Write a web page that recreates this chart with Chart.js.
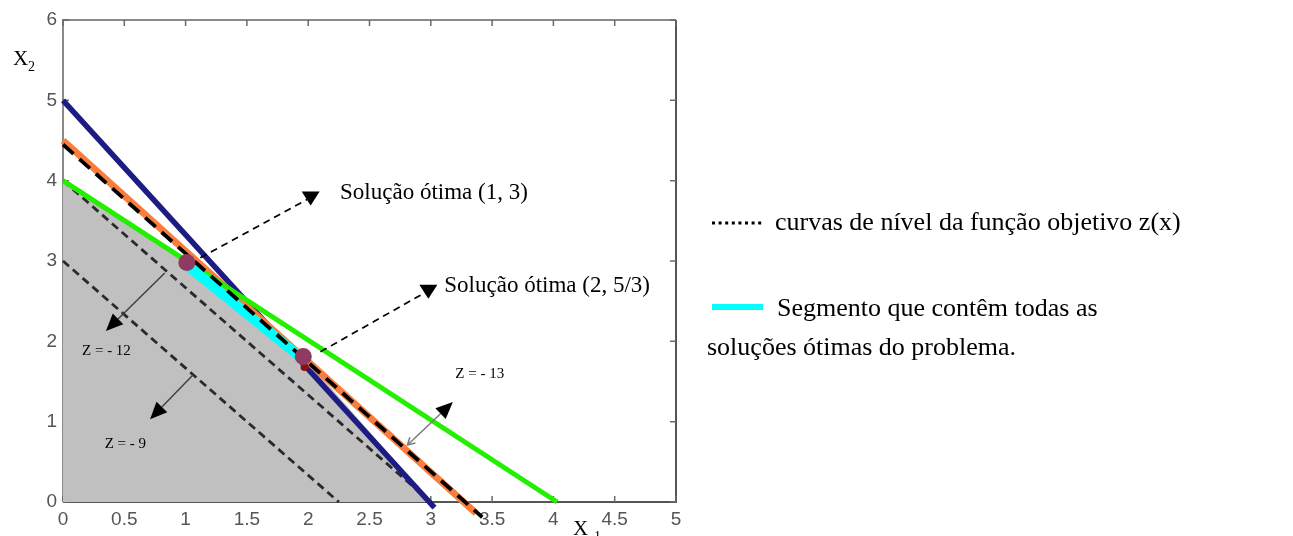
<!DOCTYPE html>
<html><head><meta charset="utf-8">
<script src="https://cdn.jsdelivr.net/npm/chart.js@4.4.1/dist/chart.umd.min.js"></script>
<style>html,body{margin:0;padding:0;background:#fff;} #wrap{position:relative;width:1293px;height:536px;}</style>
</head><body><div id="wrap"><canvas id="c" width="1293" height="536"></canvas></div>
<script>
// ---- data ----
const xTicks = [0, 0.5, 1, 1.5, 2, 2.5, 3, 3.5, 4, 4.5, 5];
const xTickLabels = ['0', '0.5', '1', '1.5', '2', '2.5', '3', '3.5', '4', '4.5', '5'];
const yTicks = [0, 1, 2, 3, 4, 5, 6];
const yTickLabels = ['0', '1', '2', '3', '4', '5', '6'];

const regionX = [0, 1, 1.97, 3];        // grey feasible region (upper boundary)
const regionY = [4, 3, 1.8, 0];
const blueX = [0, 3.03];   const blueY = [5, -0.07];
const orangeX = [0, 3.37]; const orangeY = [4.5, -0.14];
const greenX = [0, 4.03];  const greenY = [4, 0];
const z13X = [0, 3.42];    const z13Y = [4.45, -0.19];   // z = -13
const z12X = [0, 3];       const z12Y = [4, 0];          // z = -12
const z9X = [0, 2.25];     const z9Y = [3, 0];           // z = -9
const optSegX = [0.97, 1.98]; const optSegY = [3.0, 1.75];
const optPtX = [1.01, 1.96];  const optPtY = [2.98, 1.81];
const markX = [1.97];         const markY = [1.68];

const pts = (xs, ys) => xs.map((x, i) => ({x: x, y: ys[i]}));

// ---- annotations (data coordinates) ----
const annotations = [
  {from: [1.12, 3.04], to: [2.02, 3.79], text: 'Solução ótima (1, 3)', at: [2.26, 3.85]},
  {from: [2.10, 1.87], to: [2.98, 2.63], text: 'Solução ótima (2, 5/3)', at: [3.11, 2.69]},
];
const levelArrows = [
  {from: [2.81, 0.71], to: [3.18, 1.245], shaft: '#7a7a7a', tail: true},
  {from: [0.83, 2.85], to: [0.35, 2.13], shaft: '#404040'},
  {from: [1.06, 1.58], to: [0.71, 1.03], shaft: '#404040'},
];
const levelLabels = [
  {text: 'Z = - 13', at: [3.20, 1.59]},
  {text: 'Z = - 12', at: [0.155, 1.88]},
  {text: 'Z = - 9', at: [0.34, 0.72]},
];

function line(data, color, width, extra) {
  return Object.assign({data: data, showLine: true, borderColor: color, borderWidth: width,
    pointRadius: 0, fill: false, clip: false, borderCapStyle: 'butt'}, extra || {});
}

const SERIF = '"Liberation Serif", "Times New Roman", serif';

const framePlugin = {
  id: 'frame',
  beforeDatasetsDraw(chart) {
    const {ctx, chartArea: a, scales: {x, y}} = chart;
    ctx.save();
    ctx.lineWidth = 2;
    ctx.strokeStyle = '#8a8a8a';
    ctx.beginPath();
    ctx.moveTo(a.left, a.bottom); ctx.lineTo(a.left, a.top); ctx.lineTo(a.right, a.top);
    ctx.stroke();
    ctx.strokeStyle = '#555';
    ctx.beginPath();
    ctx.moveTo(a.left, a.bottom); ctx.lineTo(a.right, a.bottom); ctx.lineTo(a.right, a.top);
    ctx.stroke();
    ctx.strokeStyle = '#6a6a6a';
    ctx.lineWidth = 1.5;
    ctx.beginPath();
    xTicks.forEach(v => {
      const px = x.getPixelForValue(v);
      ctx.moveTo(px, a.bottom); ctx.lineTo(px, a.bottom - 6);
      ctx.moveTo(px, a.top); ctx.lineTo(px, a.top + 6);
    });
    yTicks.forEach(v => {
      const py = y.getPixelForValue(v);
      ctx.moveTo(a.left, py); ctx.lineTo(a.left + 6, py);
      ctx.moveTo(a.right, py); ctx.lineTo(a.right - 6, py);
    });
    ctx.stroke();
    ctx.restore();
  },
  afterDatasetsDraw(chart) {
    const {ctx, scales: {x, y}} = chart;
    const P = d => [x.getPixelForValue(d[0]), y.getPixelForValue(d[1])];
    ctx.save();
    annotations.forEach(an => {
      const s = P(an.from), e = P(an.to);
      ctx.strokeStyle = '#000'; ctx.lineWidth = 1.7; ctx.setLineDash([7, 5]);
      ctx.beginPath(); ctx.moveTo(s[0], s[1]); ctx.lineTo(e[0], e[1]); ctx.stroke();
      ctx.setLineDash([]);
      ctx.fillStyle = '#000';
      ctx.beginPath();
      ctx.moveTo(e[0] - 9, e[1] - 6); ctx.lineTo(e[0] + 9, e[1] - 6); ctx.lineTo(e[0], e[1] + 8);
      ctx.closePath(); ctx.fill();
      const t = P(an.at);
      ctx.font = '23px ' + SERIF; ctx.textBaseline = 'middle'; ctx.textAlign = 'left';
      ctx.fillText(an.text, t[0], t[1]);
    });
    levelArrows.forEach(ar => {
      const s = P(ar.from), e = P(ar.to);
      const ang = Math.atan2(e[1] - s[1], e[0] - s[0]);
      const L = 17, W = 7.5;
      const bx = e[0] - L * Math.cos(ang), by = e[1] - L * Math.sin(ang);
      ctx.strokeStyle = ar.shaft; ctx.lineWidth = 1.5;
      ctx.beginPath(); ctx.moveTo(s[0], s[1]); ctx.lineTo(bx, by); ctx.stroke();
      if (ar.tail) {
        const l = 7, w = 4;
        ctx.beginPath();
        ctx.moveTo(s[0] + l * Math.cos(ang) - w * Math.sin(ang), s[1] + l * Math.sin(ang) + w * Math.cos(ang));
        ctx.lineTo(s[0], s[1]);
        ctx.lineTo(s[0] + l * Math.cos(ang) + w * Math.sin(ang), s[1] + l * Math.sin(ang) - w * Math.cos(ang));
        ctx.stroke();
      }
      ctx.fillStyle = '#000';
      ctx.beginPath();
      ctx.moveTo(e[0], e[1]);
      ctx.lineTo(bx - W * Math.sin(ang), by + W * Math.cos(ang));
      ctx.lineTo(bx + W * Math.sin(ang), by - W * Math.cos(ang));
      ctx.closePath(); ctx.fill();
    });
    levelLabels.forEach(lb => {
      const t = P(lb.at);
      ctx.fillStyle = '#000';
      ctx.font = '15px ' + SERIF; ctx.textBaseline = 'middle'; ctx.textAlign = 'left';
      ctx.fillText(lb.text, t[0], t[1]);
    });
    ctx.restore();
  },
  afterDraw(chart) {
    const ctx = chart.ctx;
    ctx.save();
    ctx.fillStyle = '#000';
    ctx.textAlign = 'left';
    ctx.textBaseline = 'alphabetic';
    ctx.font = '21px ' + SERIF;
    ctx.fillText('X', 13, 65);
    ctx.fillText('X', 573, 535);
    ctx.font = '14px ' + SERIF;
    ctx.fillText('2', 28, 71);
    ctx.fillText('1', 594, 541);
    ctx.strokeStyle = '#000'; ctx.lineWidth = 3; ctx.setLineDash([3, 3.6]);
    ctx.beginPath(); ctx.moveTo(712, 223); ctx.lineTo(764, 223); ctx.stroke();
    ctx.setLineDash([]);
    ctx.fillStyle = '#00ffff';
    ctx.fillRect(712, 304, 51, 6);
    ctx.fillStyle = '#000';
    ctx.font = '26px ' + SERIF;
    ctx.textBaseline = 'middle';
    ctx.fillText('curvas de nível da função objetivo z(x)', 775, 223);
    ctx.fillText('Segmento que contêm todas as', 777, 309);
    ctx.fillText('soluções ótimas do problema.', 707, 348);
    ctx.restore();
  }
};

new Chart(document.getElementById('c'), {
  type: 'scatter',
  data: {
    datasets: [
      line(pts(regionX, regionY), 'rgba(0,0,0,0)', 0, {fill: 'origin', backgroundColor: '#c0c0c0', clip: true, order: 10}),
      line(pts(z12X, z12Y), '#2a2a2a', 2.8, {borderDash: [8, 5], order: 9}),
      line(pts(z9X, z9Y), '#2a2a2a', 2.8, {borderDash: [8, 5], order: 9}),
      line(pts(blueX, blueY), '#1c1c82', 5.5, {order: 8}),
      line(pts(orangeX, orangeY), '#fa7d3c', 7, {order: 7}),
      line(pts(greenX, greenY), '#22f000', 5, {order: 6}),
      line(pts(optSegX, optSegY), '#00ffff', 10, {order: 5}),
      line(pts(z13X, z13Y), '#000000', 3.8, {borderDash: [14, 8], order: 4}),
      {data: pts(markX, markY), showLine: false, pointRadius: 4, pointBackgroundColor: '#8b1010', pointBorderWidth: 0, clip: false, order: 2},
      {data: pts(optPtX, optPtY), showLine: false, pointRadius: 8.5, pointBackgroundColor: '#8e3a62', pointBorderWidth: 0, clip: false, order: 1}
    ]
  },
  options: {
    responsive: false,
    animation: false,
    events: [],
    layout: {padding: {left: 0, top: 20, right: 617, bottom: 0}},
    plugins: {legend: {display: false}, tooltip: {enabled: false}},
    scales: {
      x: {
        type: 'linear', min: 0, max: 5,
        afterBuildTicks: s => { s.ticks = xTicks.map(v => ({value: v})); },
        afterFit: s => { s.height = 34; },
        ticks: {callback: (v, i) => xTickLabels[i], autoSkip: false, maxRotation: 0,
          font: {family: '"Liberation Sans", Arial, sans-serif', size: 19}, color: '#555555', padding: 6},
        grid: {display: false, drawTicks: false},
        border: {display: false}
      },
      y: {
        type: 'linear', min: 0, max: 6,
        afterBuildTicks: s => { s.ticks = yTicks.map(v => ({value: v})); },
        afterFit: s => { s.width = 63; },
        ticks: {callback: (v, i) => yTickLabels[i], autoSkip: false,
          font: {family: '"Liberation Sans", Arial, sans-serif', size: 19}, color: '#555555', padding: 6},
        grid: {display: false, drawTicks: false},
        border: {display: false}
      }
    }
  },
  plugins: [framePlugin]
});
</script>
</body></html>
